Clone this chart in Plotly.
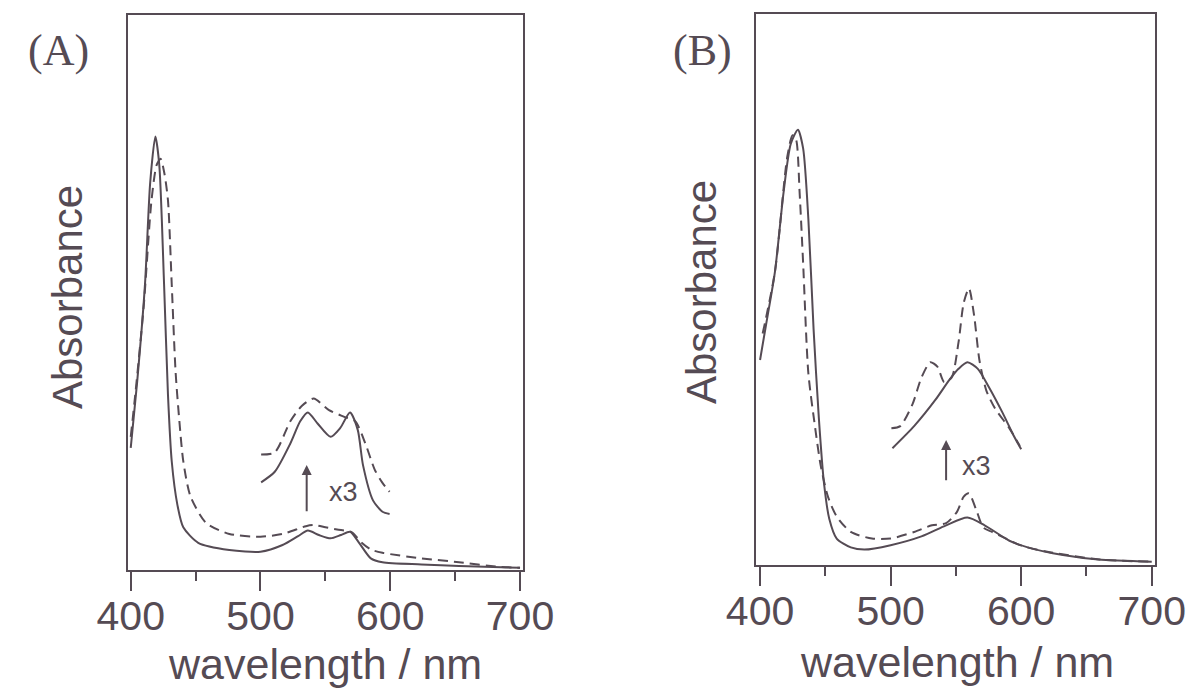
import plotly.graph_objects as go

# ---------------- Panel A data (wavelength nm, relative absorbance) ----------------
a_solid_x = [400, 405, 411, 415, 419, 422, 425.7, 428.7, 431.6, 436, 440.5, 452, 476, 500,
             517, 529, 536.5, 545, 554, 562, 569, 576, 585, 594, 624, 653, 700]
a_solid_y = [0.220, 0.340, 0.515, 0.698, 0.781, 0.730, 0.515, 0.316, 0.196, 0.117, 0.077, 0.049,
             0.036, 0.033, 0.045, 0.061, 0.071, 0.063, 0.057, 0.063, 0.069, 0.049, 0.021, 0.014,
             0.010, 0.007, 0.004]

a_dash_x = [400, 403.5, 410, 416, 420, 423, 426, 428.7, 431.6, 434.6, 437.5, 440.5, 446, 458,
            476, 500, 517, 535, 541, 550, 559, 570.5, 578, 585, 594, 624, 653, 683, 700]
a_dash_y = [0.240, 0.316, 0.475, 0.666, 0.730, 0.741, 0.714, 0.666, 0.515, 0.356, 0.268, 0.196,
            0.133, 0.085, 0.065, 0.060, 0.065, 0.079, 0.081, 0.077, 0.073, 0.068, 0.049, 0.037,
            0.031, 0.021, 0.014, 0.006, 0.004]

a_inset_solid_x = [500.5, 511, 523, 530.6, 536.5, 544, 554, 561.5, 569, 575, 579, 586.8, 594, 599.5]
a_inset_solid_y = [0.158, 0.177, 0.228, 0.268, 0.284, 0.264, 0.240, 0.256, 0.284, 0.252, 0.189,
                   0.125, 0.105, 0.101]

a_inset_dash_x = [500.5, 511, 523, 532, 541, 552.8, 564.6, 573, 580.8, 588, 594, 599.5]
a_inset_dash_y = [0.208, 0.212, 0.268, 0.296, 0.309, 0.288, 0.276, 0.268, 0.228, 0.181, 0.157, 0.141]

# ---------------- Panel B data ----------------
b_solid_x = [400, 404.6, 411.4, 418, 423.5, 429, 433, 437, 441, 445, 449, 453, 458.7, 469.5,
             480, 500, 523.6, 542.5, 558.8, 572, 591, 605, 632, 659, 700]
b_solid_y = [0.372, 0.436, 0.532, 0.676, 0.764, 0.790, 0.756, 0.628, 0.428, 0.268, 0.148, 0.084,
             0.048, 0.032, 0.028, 0.036, 0.052, 0.072, 0.086, 0.072, 0.044, 0.032, 0.018, 0.010,
             0.006]

b_dash_x = [402, 411.4, 420.8, 424.9, 427.6, 430.3, 433, 437, 442.5, 446.5, 452, 458.7, 469.5,
            485.7, 500, 518, 531.7, 542.5, 550.7, 556, 560, 565.6, 571, 577.7, 588.5, 599, 620,
            660, 700]
b_dash_y = [0.420, 0.532, 0.740, 0.780, 0.772, 0.676, 0.548, 0.348, 0.244, 0.180, 0.124, 0.088,
            0.060, 0.048, 0.048, 0.060, 0.072, 0.076, 0.096, 0.124, 0.130, 0.100, 0.068, 0.060,
            0.048, 0.036, 0.024, 0.010, 0.006]

b_inset_solid_x = [501.4, 518, 534.4, 545, 552, 558.8, 566.8, 575, 585.8, 594, 600]
b_inset_solid_y = [0.212, 0.252, 0.300, 0.336, 0.356, 0.368, 0.356, 0.324, 0.276, 0.236, 0.210]

b_inset_dash_x = [500.6, 507.4, 516.8, 523.6, 530.4, 535.8, 541, 546.7, 552, 556, 560, 564, 568,
                  573.4, 580, 591, 599]
b_inset_dash_y = [0.248, 0.252, 0.292, 0.340, 0.368, 0.360, 0.332, 0.340, 0.404, 0.476, 0.502,
                  0.452, 0.372, 0.316, 0.284, 0.248, 0.216]

tick_vals = [400, 500, 600, 700]
tick_text = ["400", "500", "600", "700"]

INK = "#554b54"
FONT = "Liberation Sans, Arial, sans-serif"
SERIF = "Liberation Serif, Times New Roman, serif"

fig = go.Figure()

def add_line(x, y, xa, ya, dash):
    fig.add_trace(go.Scatter(
        x=x, y=y, xaxis=xa, yaxis=ya, mode="lines",
        line=dict(color=INK, width=2, dash=dash, shape="spline", smoothing=0.7),
        showlegend=False, hoverinfo="skip"))

add_line(a_solid_x, a_solid_y, "x", "y", "solid")
add_line(a_dash_x, a_dash_y, "x", "y", "10px,6px")
add_line(a_inset_solid_x, a_inset_solid_y, "x", "y", "solid")
add_line(a_inset_dash_x, a_inset_dash_y, "x", "y", "10px,6px")
add_line(b_solid_x, b_solid_y, "x2", "y2", "solid")
add_line(b_dash_x, b_dash_y, "x2", "y2", "10px,6px")
add_line(b_inset_solid_x, b_inset_solid_y, "x2", "y2", "solid")
add_line(b_inset_dash_x, b_inset_dash_y, "x2", "y2", "10px,6px")

W, H = 1191, 689

xaxis_common = dict(
    tickmode="array", tickvals=tick_vals, ticktext=tick_text,
    ticks="outside", ticklen=19, tickwidth=2, tickcolor=INK,
    ticklabelstandoff=-10,
    showline=True, mirror=True, linecolor=INK, linewidth=2,
    showgrid=False, zeroline=False, automargin=False,
    tickfont=dict(family=FONT, size=41, color=INK),
    minor=dict(tickmode="array", tickvals=[450, 550, 650], ticks="outside",
               ticklen=9, tickwidth=2, tickcolor=INK, showgrid=False),
)
yaxis_common = dict(
    range=[0, 1], showticklabels=False, ticks="", showline=True, mirror=True,
    linecolor=INK, linewidth=2, showgrid=False, zeroline=False, automargin=False,
)

fig.update_layout(
    template="none",
    width=W, height=H,
    margin=dict(l=0, r=0, t=0, b=0, pad=0, autoexpand=False),
    paper_bgcolor="white", plot_bgcolor="white",
    xaxis=dict(domain=[128 / W, 523 / W], range=[397.9, 702.3], anchor="y", **xaxis_common),
    yaxis=dict(domain=[(H - 570) / H, (H - 15) / H], anchor="x", **yaxis_common),
    xaxis2=dict(domain=[756 / W, 1155 / W], range=[396.9, 702.5], anchor="y2", **xaxis_common),
    yaxis2=dict(domain=[(H - 565) / H, (H - 14) / H], anchor="x2", **yaxis_common),
)

ann = []

def label(text, xc, yc, size, family, angle=0):
    ann.append(dict(text=text, x=xc / W, y=(H - yc) / H, xref="paper", yref="paper",
                    xanchor="center", yanchor="middle", textangle=angle, showarrow=False,
                    font=dict(family=family, size=size, color=INK)))

# panel labels
label("(A)", 58, 50, 44, SERIF)
label("(B)", 702, 50, 44, SERIF)
# y labels
label("Absorbance", 67, 297, 42, FONT, -90)
label("Absorbance", 701, 292, 42, FONT, -90)
# x labels
label("wavelength / nm", 325, 664, 43, FONT)
label("wavelength / nm", 957, 662, 43, FONT)

# x3 labels
ann.append(dict(text="x3", x=563.6, y=0.1405, xref="x", yref="y", showarrow=False,
                xanchor="center", yanchor="middle",
                font=dict(family=FONT, size=27, color=INK)))
ann.append(dict(text="x3", x=565.4, y=0.18, xref="x2", yref="y2", showarrow=False,
                xanchor="center", yanchor="middle",
                font=dict(family=FONT, size=27, color=INK)))
# arrows
ann.append(dict(text="", x=535.6, y=0.189, ax=535.6, ay=0.103, xref="x", yref="y",
                axref="x", ayref="y", showarrow=True, arrowhead=2, arrowsize=1,
                arrowwidth=2, arrowcolor=INK))
ann.append(dict(text="", x=542.5, y=0.227, ax=542.5, ay=0.151, xref="x2", yref="y2",
                axref="x2", ayref="y2", showarrow=True, arrowhead=2, arrowsize=1,
                arrowwidth=2, arrowcolor=INK))
fig.update_layout(annotations=ann)

fig.write_html("out.html")
